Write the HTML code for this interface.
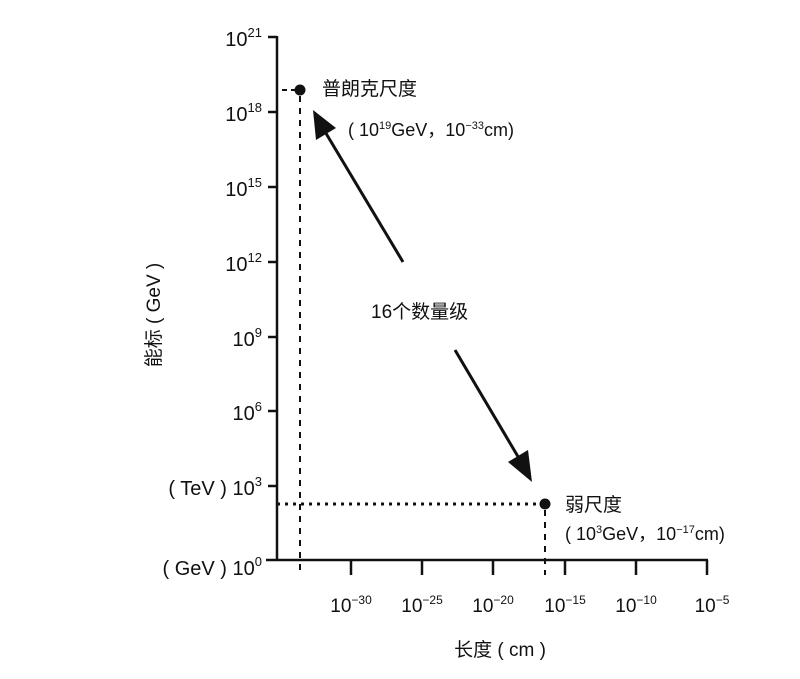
<!DOCTYPE html>
<html><head><meta charset="utf-8"><style>
body{margin:0;background:#fff;}
svg text{font-family:"Liberation Sans","Noto Sans CJK SC",sans-serif;fill:#111;}
</style></head><body>
<svg width="800" height="674" viewBox="0 0 800 674" xmlns="http://www.w3.org/2000/svg">
<g stroke="#111" stroke-width="2.5" fill="none">
<line x1="277" y1="36" x2="277" y2="561"/>
<line x1="266" y1="560" x2="708" y2="560"/>
<line x1="268" y1="37" x2="277" y2="37"/>
<line x1="268" y1="112" x2="277" y2="112"/>
<line x1="268" y1="187" x2="277" y2="187"/>
<line x1="268" y1="262" x2="277" y2="262"/>
<line x1="268" y1="337" x2="277" y2="337"/>
<line x1="268" y1="411" x2="277" y2="411"/>
<line x1="268" y1="486" x2="277" y2="486"/>
<line x1="351" y1="560" x2="351" y2="575"/>
<line x1="422" y1="560" x2="422" y2="575"/>
<line x1="493" y1="560" x2="493" y2="575"/>
<line x1="565" y1="560" x2="565" y2="575"/>
<line x1="636" y1="560" x2="636" y2="575"/>
<line x1="707" y1="560" x2="707" y2="575"/>
</g>
<g stroke="#111" stroke-width="2" fill="none">
<line x1="300" y1="96" x2="300" y2="575" stroke-dasharray="6,6"/>
<line x1="282" y1="90" x2="296" y2="90" stroke-dasharray="5,4"/>
<line x1="277" y1="504" x2="542" y2="504" stroke-dasharray="3,5" stroke-width="3"/>
<line x1="545" y1="510" x2="545" y2="575" stroke-dasharray="6,6"/>
<line x1="403" y1="262" x2="324" y2="130" stroke-width="3"/>
<line x1="455" y1="350" x2="520" y2="460" stroke-width="3"/>
</g>
<polygon points="313,110 316,140 336,128" fill="#111"/>
<polygon points="532,482 508,462 528,450" fill="#111"/>
<circle cx="300" cy="90" r="5.5" fill="#111"/>
<circle cx="545" cy="504" r="5.5" fill="#111"/>
<g font-size="20" text-anchor="end">
<text x="262" y="46">10<tspan font-size="13" dy="-9">21</tspan></text>
<text x="262" y="121">10<tspan font-size="13" dy="-9">18</tspan></text>
<text x="262" y="196">10<tspan font-size="13" dy="-9">15</tspan></text>
<text x="262" y="271">10<tspan font-size="13" dy="-9">12</tspan></text>
<text x="262" y="346">10<tspan font-size="13" dy="-9">9</tspan></text>
<text x="262" y="420">10<tspan font-size="13" dy="-9">6</tspan></text>
<text x="262" y="495">( TeV ) 10<tspan font-size="13" dy="-9">3</tspan></text>
<text x="262" y="575">( GeV ) 10<tspan font-size="13" dy="-9">0</tspan></text>
</g>
<g font-size="19" text-anchor="middle">
<text x="351" y="612">10<tspan font-size="12" dy="-8">−30</tspan></text>
<text x="422" y="612">10<tspan font-size="12" dy="-8">−25</tspan></text>
<text x="493" y="612">10<tspan font-size="12" dy="-8">−20</tspan></text>
<text x="565" y="612">10<tspan font-size="12" dy="-8">−15</tspan></text>
<text x="636" y="612">10<tspan font-size="12" dy="-8">−10</tspan></text>
<text x="712" y="612">10<tspan font-size="12" dy="-8">−5</tspan></text>
<text x="500" y="656">长度 ( cm )</text>
</g>
<text font-size="19" transform="translate(160,315) rotate(-90)" text-anchor="middle">能标 ( GeV )</text>
<text x="322" y="95" font-size="19">普朗克尺度</text>
<text x="348" y="136" font-size="18">( 10<tspan font-size="11" dy="-7">19</tspan><tspan dy="7">GeV，10</tspan><tspan font-size="11" dy="-7">−33</tspan><tspan dy="7">cm)</tspan></text>
<text x="371" y="318" font-size="19">16个数量级</text>
<text x="565" y="511" font-size="19">弱尺度</text>
<text x="565" y="540" font-size="18">( 10<tspan font-size="11" dy="-7">3</tspan><tspan dy="7">GeV，10</tspan><tspan font-size="11" dy="-7">−17</tspan><tspan dy="7">cm)</tspan></text>
</svg>
</body></html>
